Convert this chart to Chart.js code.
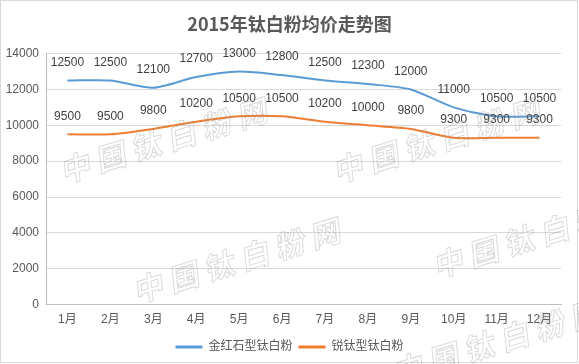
<!DOCTYPE html>
<html>
<head>
<meta charset="utf-8">
<script src="https://cdn.jsdelivr.net/npm/chart.js@4.4.1/dist/chart.umd.min.js"></script>
<style>
  html, body { margin: 0; padding: 0; background: #ffffff; }
  #wrap { position: relative; width: 579px; height: 364px; }
</style>
</head>
<body>
<div id="wrap"><canvas id="price-chart"></canvas></div>
<script>
// Chart data
const months = ['1月', '2月', '3月', '4月', '5月', '6月', '7月', '8月', '9月', '10月', '11月', '12月'];
const rutilePrices = [12500, 12500, 12100, 12700, 13000, 12800, 12500, 12300, 12000, 11000, 10500, 10500];
const anatasePrices = [9500, 9500, 9800, 10200, 10500, 10500, 10200, 10000, 9800, 9300, 9300, 9300];
const seriesNames = ['金红石型钛白粉', '锐钛型钛白粉'];
const chartTitle = '2015年钛白粉均价走势图';
const watermarkText = '中国钛白粉网';

const FONT = '"Liberation Sans", "Noto Sans CJK SC", sans-serif';
const TEXT_COLOR = '#595959';

// Value labels above every point
const valueLabels = {
    id: 'valueLabels',
    afterDatasetsDraw(chart) {
        const ctx = chart.ctx;
        ctx.save();
        ctx.font = '12px ' + FONT;
        ctx.fillStyle = '#404040';
        ctx.textAlign = 'center';
        ctx.textBaseline = 'middle';
        chart.data.datasets.forEach((ds, i) => {
            chart.getDatasetMeta(i).data.forEach((pt, j) => {
                ctx.fillText(String(ds.data[j]), pt.x, pt.y - 18);
            });
        });
        ctx.restore();
    }
};

// Outer frame and the site watermark
const frameAndMark = {
    id: 'frameAndMark',
    beforeDraw(chart) {
        const ctx = chart.ctx;
        ctx.save();
        ctx.strokeStyle = '#d9d9d9';
        ctx.lineWidth = 1;
        ctx.strokeRect(0.5, 0.5, 577, 362);
        ctx.restore();
    },
    afterDraw(chart) {
        const ctx = chart.ctx;
        const starts = [[77, 167], [350, 167], [150, 287], [450, 262], [410, 368]];
        const ang = -17 * Math.PI / 180;
        ctx.save();
        ctx.font = 'bold 30px "Noto Sans CJK SC", sans-serif';
        ctx.strokeStyle = 'rgba(150, 150, 150, 0.35)';
        ctx.lineWidth = 1;
        ctx.textAlign = 'center';
        ctx.textBaseline = 'middle';
        starts.forEach(([sx, sy]) => {
            [...watermarkText].forEach((ch, k) => {
                const x = sx + k * 37 * Math.cos(ang);
                const y = sy + k * 37 * Math.sin(ang);
                ctx.save();
                ctx.translate(x, y);
                ctx.rotate(ang);
                ctx.transform(1, 0, -0.2, 1, 0, 0);
                ctx.strokeText(ch, 0, 0);
                ctx.restore();
            });
        });
        ctx.restore();
    }
};

const ctx = document.getElementById('price-chart').getContext('2d');
const chart = new Chart(ctx, {
    type: 'line',
    data: {
        labels: months,
        datasets: [{
            label: seriesNames[0],
            data: rutilePrices,
            borderColor: '#5B9BD5',
            backgroundColor: '#5B9BD5',
            borderWidth: 2,
            pointRadius: 0,
            tension: 0.25
        }, {
            label: seriesNames[1],
            data: anatasePrices,
            borderColor: '#ED7D31',
            backgroundColor: '#ED7D31',
            borderWidth: 2,
            pointRadius: 0,
            tension: 0.25
        }]
    },
    options: {
        responsive: true,
        maintainAspectRatio: false,
        animation: false,
        layout: {
            padding: { left: 0, right: 0, top: 0, bottom: 1 }
        },
        scales: {
            x: {
                offset: true,
                grid: { display: false, drawTicks: false },
                border: { color: '#bfbfbf' },
                ticks: {
                    color: TEXT_COLOR,
                    font: { size: 12, family: FONT },
                    padding: 8,
                    maxRotation: 0
                }
            },
            y: {
                min: 0,
                max: 14000,
                afterFit(scale) { scale.width = 46; },
                grid: { color: '#d9d9d9', drawTicks: false },
                border: { color: '#bfbfbf' },
                ticks: {
                    stepSize: 2000,
                    color: TEXT_COLOR,
                    font: { size: 12, family: FONT },
                    padding: 7,
                    callback: v => String(v)
                }
            },
            // empty right margin so title and legend stay centred on the canvas
            spacer: {
                type: 'linear',
                position: 'right',
                min: 0,
                max: 1,
                afterFit(scale) { scale.width = 18; },
                grid: { drawOnChartArea: false, drawTicks: false },
                border: { display: false },
                ticks: { display: false }
            }
        },
        plugins: {
            title: {
                display: true,
                text: chartTitle,
                color: TEXT_COLOR,
                font: { size: 18, weight: 'bold', family: '"Noto Sans CJK SC", sans-serif' },
                padding: { top: 13, bottom: 19 }
            },
            legend: {
                position: 'bottom',
                labels: {
                    color: TEXT_COLOR,
                    font: { size: 12, family: FONT },
                    boxWidth: 27,
                    boxHeight: 3,
                    padding: 6,
                    generateLabels(c) {
                        return Chart.defaults.plugins.legend.labels.generateLabels(c)
                            .map(l => ({ ...l, lineWidth: 0 }));
                    }
                }
            },
            tooltip: { enabled: false }
        }
    },
    plugins: [valueLabels, frameAndMark]
});
</script>
</body>
</html>
